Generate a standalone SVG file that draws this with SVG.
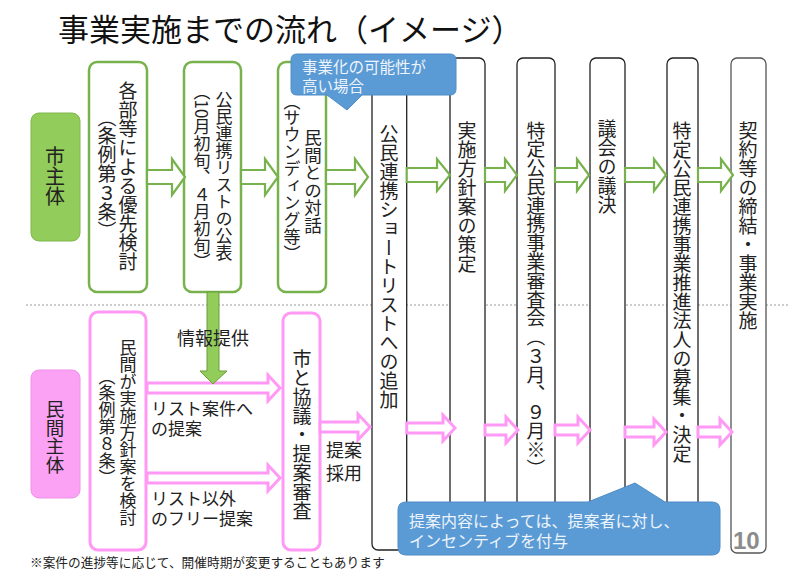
<svg xmlns="http://www.w3.org/2000/svg" width="800" height="581" viewBox="0 0 800 581">
<style>
text{font-family:"Noto Sans CJK JP","Noto Sans",sans-serif;fill:#222}
.v{writing-mode:vertical-rl;text-orientation:mixed}
.vp{font-feature-settings:"vpal"}
.gbox{fill:#fff;stroke:#77b24c;stroke-width:2.5}
.pbox{fill:#fff;stroke:#ff99f5;stroke-width:3}
.kbox{fill:#fff;stroke:#222;stroke-width:1.3}
.garr{fill:#fff;stroke:#77b24c;stroke-width:2.2;stroke-linejoin:miter}
.parr{fill:#fff;stroke:#ff99f5;stroke-width:3;stroke-linejoin:miter}
.call{fill:#5b9bd5;stroke:#4f8cc6;stroke-width:1}
.ct{fill:#eef4fb}
</style>
<rect width="800" height="581" fill="#fff"/>
<text x="58" y="41" font-size="31" style="fill:#111">事業実施までの流れ（イメージ）</text>
<line x1="26" y1="305" x2="790" y2="305" stroke="#999" stroke-width="1" stroke-dasharray="2 2"/>

<g id="label-city">
<rect x="31" y="113" width="49" height="128" rx="8" fill="#92cc5a" stroke="#80b84c" stroke-width="1"/>
<text class="v" x="55" y="146" font-size="20">市主体</text>
</g>
<g id="label-private">
<rect x="31" y="370" width="49" height="128" rx="8" fill="#fba2f4" stroke="#f090ea" stroke-width="1"/>
<text class="v" x="55" y="400" font-size="18.5">民間主体</text>
</g>

<g id="node-g1">
<rect class="gbox" x="89" y="62" width="58" height="230" rx="8"/>
<text class="v" x="128" y="81" font-size="19">各部等による優先検討</text>
<text class="v" x="107" y="117" font-size="19"><tspan class="vp">（</tspan>条例第３条<tspan class="vp">）</tspan></text>
</g>
<g id="node-g2">
<rect class="gbox" x="184" y="62" width="57" height="230" rx="8"/>
<text class="v" x="224" y="91" font-size="17">公民連携リストの公表</text>
<text class="v" x="202" y="91" font-size="17"><tspan class="vp">（</tspan>10月初旬、４月初旬<tspan class="vp">）</tspan></text>
</g>
<g id="node-g3">
<rect class="gbox" x="278" y="62" width="48" height="230" rx="8"/>
<text class="v" x="313" y="129" font-size="17.5">民間との対話</text>
<text class="v" x="292" y="101" font-size="17"><tspan class="vp">（</tspan>サウンディング等<tspan class="vp">）</tspan></text>
</g>
<g id="node-p1">
<rect class="pbox" x="90" y="312" width="56" height="238" rx="8"/>
<text class="v" x="128" y="339" font-size="17">民間が実施方針案を検討</text>
<text class="v" x="107" y="376" font-size="17"><tspan class="vp">（</tspan>条例第８条<tspan class="vp">）</tspan></text>
</g>
<g id="node-p2">
<rect class="pbox" x="283" y="313" width="37" height="237" rx="8"/>
<text class="v" x="302" y="349" font-size="19">市と協議・提案審査</text>
</g>

<g id="node-a">
<rect class="kbox" x="372" y="58" width="34.7" height="492" rx="6"/>
<text class="v" x="389" y="124" font-size="19">公民連携ショートリストへの追加</text>
</g>
<g id="node-b">
<rect class="kbox" x="450" y="58" width="35" height="495" rx="6"/>
<text class="v" x="467" y="121" font-size="19">実施方針案の策定</text>
</g>
<g id="node-c">
<rect class="kbox" x="517" y="58" width="38" height="495" rx="6"/>
<text class="v" x="536" y="121" font-size="18.8">特定公民連携事業審査会（３月、９月※）</text>
</g>
<g id="node-d">
<rect class="kbox" x="590" y="58" width="35" height="495" rx="6"/>
<text class="v" x="607" y="119" font-size="19">議会の議決</text>
</g>
<g id="node-e">
<rect class="kbox" x="667" y="58" width="31" height="495" rx="6"/>
<text class="v" x="682" y="121" font-size="19">特定公民連携事業推進法人の募集・決定</text>
</g>
<g id="node-f">
<rect x="731" y="58" width="35" height="495" rx="6" fill="#fff" stroke="#555" stroke-width="1.3"/>
<text class="v" x="748" y="121" font-size="19">契約等の締結・事業実施</text>
</g>

<g id="connectors">
<path class="garr" d="M147,170 H172 V159 L185,177 L172,195 V184 H147 Z"/>
<path class="garr" d="M241,170 H265 V159 L278,177 L265,195 V184 H241 Z"/>
<path class="garr" d="M326,170 H355 V159 L368,177 L355,195 V184 H326 Z"/>
<path class="garr" d="M406.7,168 H437 V159 L450,175 L437,191 V182 H406.7 Z"/>
<path class="garr" d="M485,168 H505 V159 L517,175 L505,191 V182 H485 Z"/>
<path class="garr" d="M555,168 H577 V159 L589,175 L577,191 V182 H555 Z"/>
<path class="garr" d="M625,168 H654 V159 L666,175 L654,191 V182 H625 Z"/>
<path class="garr" d="M698,168 H721 V159 L733,175 L721,191 V182 H698 Z"/>

<path class="parr" d="M147,383 H268 V375 L280,388 L268,401 V393 H147 Z"/>
<path class="parr" d="M147,473 H268 V465 L280,478 L268,491 V483 H147 Z"/>
<path class="parr" d="M320,422 H358 V414 L370,427 L358,440 V432 H320 Z"/>
<path class="parr" d="M406.7,423 H443 V415 L455,428 L443,441 V433 H406.7 Z"/>
<path class="parr" d="M485,425 H506 V417 L518,430 L506,443 V435 H485 Z"/>
<path class="parr" d="M555,425 H578 V417 L590,430 L578,443 V435 H555 Z"/>
<path class="parr" d="M625,427 H654 V419 L666,432 L654,445 V437 H625 Z"/>
<path class="parr" d="M698,427 H720 V419 L732,432 L720,445 V437 H698 Z"/>

<path d="M207,292 V371 H200 L213,384 L227,371 H219 V292 Z" fill="#92cc5a" stroke="#6a9e3a" stroke-width="1"/>
</g>

<text x="177" y="345" font-size="18">情報提供</text>
<text x="151" y="415" font-size="17">リスト案件へ</text>
<text x="151" y="435" font-size="17">の提案</text>
<text x="151" y="505" font-size="17">リスト以外</text>
<text x="151" y="525" font-size="17">のフリー提案</text>
<text x="326" y="457" font-size="18">提案</text>
<text x="326" y="480" font-size="18">採用</text>

<g id="callout-top">
<path class="call" d="M297,54 H450 Q456,54 456,60 V89 Q456,95 450,95 H362 L347,110 L327,95 H297 Q291,95 291,89 V60 Q291,54 297,54 Z"/>
<text class="ct" x="302" y="73" font-size="15.5">事業化の可能性が</text>
<text class="ct" x="302" y="92" font-size="15.5">高い場合</text>
</g>
<g id="callout-bottom">
<path class="call" d="M406,502 H588 L635,483 L665,502 H712 Q720,502 720,510 V547 Q720,555 712,555 H406 Q398,555 398,547 V510 Q398,502 406,502 Z"/>
<text class="ct" x="409" y="527" font-size="16">提案内容によっては、提案者に対し、</text>
<text class="ct" x="409" y="547" font-size="16">インセンティブを付与</text>
</g>

<text x="733" y="549" font-size="24" font-weight="bold" style="font-family:'Liberation Sans',sans-serif;fill:#8c8c8c">10</text>
<text x="30" y="567" font-size="12.7">※案件の進捗等に応じて、開催時期が変更することもあります</text>
</svg>
